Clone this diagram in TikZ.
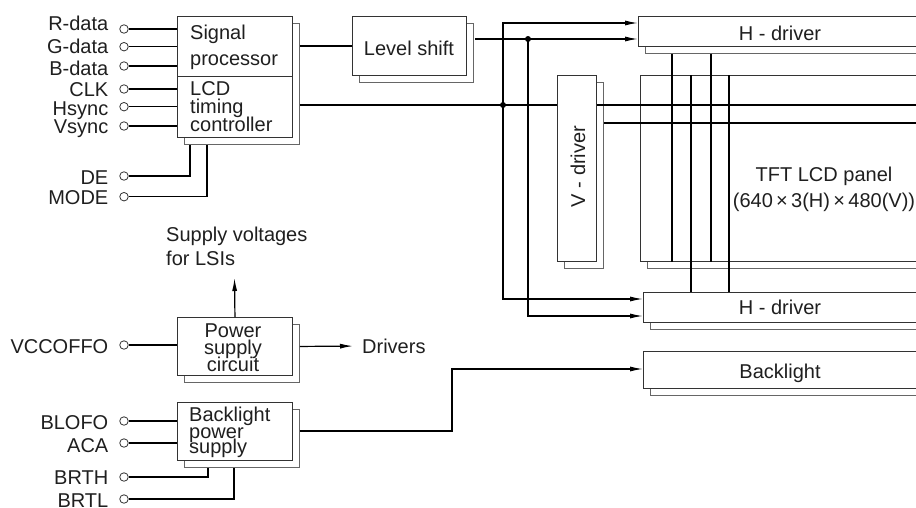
\documentclass[tikz,border=0pt]{standalone}
\usepackage{fontspec}
\setmainfont{Liberation Sans}
\usetikzlibrary{arrows.meta,shadows,calc}
\begin{document}
\begin{tikzpicture}[x=1pt,y=-1pt,
  font=\fontsize{20}{24}\selectfont, text=black!88,
  box/.style={draw=black!80, line width=0.9pt, fill=white, inner sep=0pt, anchor=north west,
     general shadow={shadow xshift=7pt, shadow yshift=-7pt, draw=black!60, fill=white, line width=0.9pt}},
  wire/.style={line width=1.2pt, draw=black},
  arr/.style={wire, -{Latex[length=13pt,width=5pt]}},
  term/.style={circle, draw=black!80, fill=white, line width=0.8pt, minimum size=8.5pt, inner sep=0pt},
  lbl/.style={anchor=base east, inner sep=0pt},
  txt/.style={inner sep=0pt},
  dot/.style={circle, fill=black, minimum size=6pt, inner sep=0pt},
]
\clip (0,0) rectangle (916,507);
\fill[white] (0,0) rectangle (916,507);

% ---------- boxes ----------
\node[box, minimum width=115pt, minimum height=121pt] (sig) at (177,16) {};
\draw[draw=black!80, line width=0.9pt] ($(sig.north west)+(0,60)$) -- ($(sig.north east)+(0,60)$);
\node[box, minimum width=114pt, minimum height=59pt] (ls) at (352,16) {};
\node[box, minimum width=290pt, minimum height=30pt] (hd1) at (638,16) {};
\node[box, minimum width=290pt, minimum height=186pt] (panel) at (640,75) {};
\node[box, minimum width=39pt, minimum height=186pt] (vd) at (557,75) {};
\node[box, minimum width=280pt, minimum height=30pt] (hd2) at (643,292) {};
\node[box, minimum width=280pt, minimum height=37pt] (bl) at (643,351) {};
\node[box, minimum width=115pt, minimum height=58pt] (pwr) at (177,317) {};
\node[box, minimum width=115pt, minimum height=58pt] (blps) at (177,402) {};

% ---------- box texts ----------
\node[txt, anchor=base west] (tSig) at (190,39) {Signal};
\node[txt, anchor=base west] (tProc) at (190,65) {processor};
\node[txt, anchor=base west] (tLCD) at (190,95) {LCD};
\node[txt, anchor=base west] (tTim) at (190,113) {timing};
\node[txt, anchor=base west] (tCon) at (190,131.5) {controller};
\node[txt, anchor=base] (tLs) at (409,55) {Level shift};
\node[txt, anchor=base] (tHd1) at (780,40) {H - driver};
\node[txt, anchor=base] (tHd2) at (780,314) {H - driver};
\node[txt, anchor=base] (tBl) at (780,378) {Backlight};
\node[txt, anchor=base, rotate=90] (tVd) at (585,166.5) {V - driver};
\node[txt, anchor=base] (tP1) at (824,181.5) {TFT LCD panel};
\node[txt, anchor=base] (tP2) at (824,207) {(640\,×\,3(H)\,×\,480(V))};
\node[txt, anchor=base] (tPw1) at (233,337) {Power};
\node[txt, anchor=base] (tPw2) at (233,354) {supply};
\node[txt, anchor=base] (tPw3) at (233,371) {circuit};
\node[txt, anchor=base west] (tB1) at (189,421.5) {Backlight};
\node[txt, anchor=base west] (tB2) at (189,438) {power};
\node[txt, anchor=base west] (tB3) at (189,453) {supply};
\node[txt, anchor=base west] (sv1) at (166,241.5) {Supply voltages};
\node[txt, anchor=base west] (sv2) at (166,265.5) {for LSIs};
\node[txt, anchor=west] (drv) at (362,346) {Drivers};

% ---------- terminals ----------
\node[lbl] (lR) at (108.5,30.7) {R-data};   \node[term] (tR) at (124,29) {};
\node[lbl] (lG) at (108.5,53) {G-data};     \node[term] (tG) at (124,46.7) {};
\node[lbl] (lB) at (108.5,75) {B-data};     \node[term] (tB) at (124,66) {};
\node[lbl] (lC) at (108.5,96) {CLK};        \node[term] (tC) at (124,89) {};
\node[lbl] (lH) at (108.5,115) {Hsync};     \node[term] (tH) at (124,106.7) {};
\node[lbl] (lV) at (108.5,133) {Vsync};     \node[term] (tV) at (124,126) {};
\node[lbl] (lDE) at (108.5,184) {DE};       \node[term] (tDE) at (124,176) {};
\node[lbl] (lM) at (108.5,204) {MODE};      \node[term] (tM) at (124,196.7) {};
\node[lbl] (lVc) at (108.5,353) {VCCOFFO};  \node[term] (tVc) at (124,345) {};
\node[lbl] (lBo) at (108.5,429) {BLOFO};    \node[term] (tBo) at (124,421) {};
\node[lbl] (lA) at (108.5,452) {ACA};       \node[term] (tA) at (124,443) {};
\node[lbl] (lBh) at (108.5,484) {BRTH};     \node[term] (tBh) at (124,477) {};
\node[lbl] (lBl) at (108.5,507) {BRTL};     \node[term] (tBl2) at (124,499) {};

% ---------- input wires ----------
\foreach \t in {tR,tG,tB,tC,tH,tV} \draw[wire] (\t) -- (\t -| sig.west);
\draw[wire] (tDE) -| ($(sig.south west)+(13,7)$);
\draw[wire] (tM) -| ($(sig.south west)+(30,7)$);
\draw[wire] (tVc) -- (tVc -| pwr.west);
\draw[wire] (tBo) -- (tBo -| blps.west);
\draw[wire] (tA) -- (tA -| blps.west);
\draw[wire] (tBh) -| ($(blps.south west)+(31,7)$);
\draw[wire] (tBl2) -| ($(blps.south west)+(57,7)$);

% ---------- internal wires ----------
\coordinate (j1) at (503,105);
\coordinate (j2) at (528,39);
\draw[wire] ($(sig.north east)+(7,30)$) -- ($(ls.north west)+(0,30)$);
\draw[wire] ($(sig.north east)+(7,89)$) -- (vd.west |- j1);
\draw[arr] (j1) |- ($(hd1.north west)+(0,7)$);
\draw[arr] (j1) |- ($(hd2.north west)+(0,7)$);
\draw[arr] ($(ls.north east)+(8,23)$) -- ($(hd1.north west)+(0,23)$);
\draw[arr] (j2) |- ($(hd2.north west)+(0,24)$);
\node[dot] (d1) at (j1) {};
\node[dot] (d2) at (j2) {};

% panel grid
\draw[wire] ($(hd1.south west)+(34,7)$) -- ($(panel.south west)+(32,0)$);
\draw[wire] ($(hd1.south west)+(73,7)$) -- ($(panel.south west)+(71,0)$);
\draw[wire] ($(panel.north west)+(51,0)$) -- ($(hd2.north west)+(48,0)$);
\draw[wire] ($(panel.north west)+(89,0)$) -- ($(hd2.north west)+(86,0)$);
\draw[wire] ($(vd.north east)+(0,30)$) -- ($(panel.north east)+(0,30)$);
\draw[wire] ($(vd.north east)+(7,48)$) -- ($(panel.north east)+(0,48)$);

% power
\coordinate (svtip) at (234.5,278);
\draw[arr] (pwr.north) -- (svtip);
\draw[arr, shorten >=9pt] ($(pwr.east)+(7,0)$) -- (drv.west);
\coordinate (bend) at (452,369);
\draw[arr] ($(blps.north east)+(7,29)$) -| (bend) -- (bl.west |- bend);
\end{tikzpicture}
\end{document}
